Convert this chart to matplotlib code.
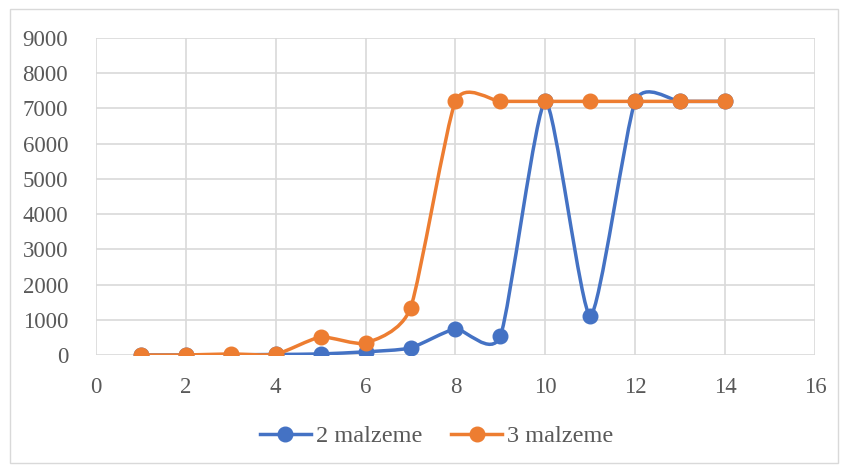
import matplotlib.pyplot as plt
from matplotlib.path import Path
from matplotlib.patches import PathPatch, Rectangle
from matplotlib.lines import Line2D

plt.rcParams['font.family'] = ['Liberation Serif', 'DejaVu Serif']

x = [1, 2, 3, 4, 5, 6, 7, 8, 9, 10, 11, 12, 13, 14]
malzeme_2 = [0, 0, 5, 15, 30, 90, 200, 740, 540, 7200, 1110, 7200, 7200, 7200]
malzeme_3 = [0, 0, 30, 20, 510, 340, 1335, 7200, 7200, 7200, 7200, 7200, 7200, 7200]

blue = '#4472C4'
orange = '#ED7D31'


def smooth_path(xs, ys, f=0.1):
    # smoothed line like Excel: cubic bezier through the points
    n = len(xs)
    verts = [(xs[0], ys[0])]
    codes = [Path.MOVETO]
    for i in range(n - 1):
        i0 = max(i - 1, 0)
        i3 = min(i + 2, n - 1)
        c1 = (xs[i] + (xs[i + 1] - xs[i0]) * f, ys[i] + (ys[i + 1] - ys[i0]) * f)
        c2 = (xs[i + 1] - (xs[i3] - xs[i]) * f, ys[i + 1] - (ys[i3] - ys[i]) * f)
        verts += [c1, c2, (xs[i + 1], ys[i + 1])]
        codes += [Path.CURVE4] * 3
    return Path(verts, codes)


fig = plt.figure(figsize=(8.48, 4.73), dpi=100)
fig.patches.append(Rectangle((0.012, 0.022), 0.976, 0.96, transform=fig.transFigure,
                             fill=False, edgecolor='#d9d9d9', linewidth=1))
ax = fig.add_axes([0.1132, 0.2495, 0.8478, 0.6702])

for ys, c, z in [(malzeme_2, blue, 3), (malzeme_3, orange, 4)]:
    ax.add_patch(PathPatch(smooth_path(x, ys), fill=False, edgecolor=c,
                           linewidth=2.5, zorder=z, capstyle='round'))
    ax.plot(x, ys, linestyle='none', marker='o', markersize=10.5, color=c, zorder=z)

ax.set_xlim(0, 16)
ax.set_ylim(0, 9000)
ax.set_xticks(range(0, 17, 2))
ax.set_yticks(range(0, 9001, 1000))
ax.grid(True, color='#d9d9d9', linewidth=1.2)
ax.set_axisbelow(True)
for s in ax.spines.values():
    s.set_visible(False)
ax.tick_params(length=0, labelsize=16.5, colors='#595959')
ax.tick_params(axis='x', pad=16)
ax.tick_params(axis='y', pad=20)

handles = [Line2D([], [], color=blue, linewidth=2.5, marker='o', markersize=10.5),
           Line2D([], [], color=orange, linewidth=2.5, marker='o', markersize=10.5)]
fig.legend(handles, ['2 malzeme', '3 malzeme'], loc='center', bbox_to_anchor=(0.515, 0.078),
           ncol=2, frameon=False, fontsize=17.5, labelcolor='#595959',
           handlelength=2.1, handletextpad=0.2, columnspacing=1.2)

fig.savefig('out.png', dpi=100)
